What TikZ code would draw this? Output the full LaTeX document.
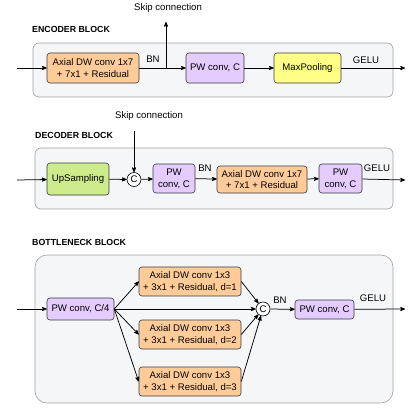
\documentclass[tikz,border=0pt]{standalone}
\usepackage{fontspec}
\setmainfont{Liberation Sans}
\usepackage{tikz}
\usetikzlibrary{arrows,shapes,positioning,calc,backgrounds}
\definecolor{orangeblk}{RGB}{255,204,153}
\definecolor{purpleblk}{RGB}{229,204,255}
\definecolor{yellowblk}{RGB}{255,255,136}
\definecolor{greenblk}{RGB}{205,235,139}
\definecolor{groupbg}{RGB}{245,246,248}
\definecolor{groupline}{RGB}{160,160,160}
\definecolor{boxline}{RGB}{54,57,61}

\begin{document}
\begin{tikzpicture}[x=1pt,y=-1pt]

           \tikzstyle{every node}=[font=\fontsize{9.6}{11.8}\selectfont]
           \tikzstyle{blk}=[draw=boxline,rounded corners=3pt,align=center,inner sep=1pt,line width=0.6pt]
           \tikzstyle{lbl}=[inner sep=0pt]
           \tikzstyle{ttl}=[inner sep=0pt,anchor=west,font=\fontsize{8.8}{10}\selectfont\bfseries]
           \tikzstyle{cat}=[draw=black,circle,fill=white,minimum size=14pt,inner sep=0pt,line width=0.6pt]
           \tikzstyle{group}=[draw=groupline,fill=groupbg,line width=0.6pt]
           \tikzstyle{link}=[->,>=stealth',line width=0.75pt]

    \useasboundingbox (0,0) rectangle (420,412);

    % containers
    \draw[group,rounded corners=6pt] (33,43) rectangle (393,97);
    \draw[group,rounded corners=6pt] (35,148) rectangle (393,209);
    \draw[group,rounded corners=12pt] (35,255) rectangle (393,403);

    % encoder block
    \node[ttl] (etitle) at (32,29) {ENCODER BLOCK};
    \node[blk,fill=orangeblk,minimum width=92pt,minimum height=30pt] (eax) at (93,68) {Axial DW conv 1x7\\+ 7x1 + Residual};
    \node[blk,fill=purpleblk,minimum width=58pt,minimum height=30pt] (epw) at (215,68) {PW conv, C};
    \node[blk,fill=yellowblk,minimum width=67pt,minimum height=30pt] (emp) at (307.5,68) {MaxPooling};
    \node[lbl] (ebn) at (153,59) {BN};
    \node[lbl] (egelu) at (366,60) {GELU};
    \node[lbl] (esktxt) at (168,8) {Skip connection};
    \coordinate (ein) at (17,68);
    \coordinate (eout) at (405,68);
    \coordinate (esk) at (166,68);
    \coordinate (eskt) at (166,22);

    \draw[link] (ein) -- (eax);
    \draw[link] (eax) -- (epw);
    \draw[link] (esk) -- (eskt);
    \draw[link] (epw) -- (emp);
    \draw[link] (emp) -- (eout);

    % decoder block
    \node[ttl] (dtitle) at (35,135) {DECODER BLOCK};
    \node[blk,fill=greenblk,minimum width=62pt,minimum height=32pt] (dup) at (78,179) {UpSampling};
    \node[cat] (dc) at (134,179.5) {C};
    \node[blk,fill=purpleblk,minimum width=42pt,minimum height=29pt] (dpw1) at (174,178.5) {PW\\conv, C};
    \node[blk,fill=orangeblk,minimum width=90pt,minimum height=27pt] (dax) at (262,179.5) {Axial DW conv 1x7\\+ 7x1 + Residual};
    \node[blk,fill=purpleblk,minimum width=43pt,minimum height=29pt] (dpw2) at (340.5,178.5) {PW\\conv, C};
    \node[lbl] (dbn) at (205,168) {BN};
    \node[lbl] (dgelu) at (377,168) {GELU};
    \node[lbl] (dsktxt) at (149,116) {Skip connection};
    \coordinate (din) at (17,180);
    \coordinate (dout) at (405,180);
    \coordinate (dskt) at (134,131);

    \draw[link] (din) -- (dup);
    \draw[link] (dup) -- (dc);
    \draw[link] (dskt) -- (dc);
    \draw[link] (dc) -- (dpw1);
    \draw[link] (dpw1) -- (dax);
    \draw[link] (dax) -- (dpw2);
    \draw[link] (dpw2) -- (dout);

    % bottleneck block
    \node[ttl] (btitle) at (32,242) {BOTTLENECK BLOCK};
    \node[blk,fill=purpleblk,minimum width=67pt,minimum height=22pt] (bpw1) at (80.5,309) {PW conv, C/4};
    \node[blk,fill=orangeblk,minimum width=102pt,minimum height=29pt] (bax1) at (190,281.5) {Axial DW conv 1x3\\+ 3x1 + Residual, d=1};
    \node[blk,fill=orangeblk,minimum width=102pt,minimum height=29pt] (bax2) at (190,334.5) {Axial DW conv 1x3\\+ 3x1 + Residual, d=2};
    \node[blk,fill=orangeblk,minimum width=102pt,minimum height=29pt] (bax3) at (190,381.5) {Axial DW conv 1x3\\+ 3x1 + Residual, d=3};
    \node[cat] (bc) at (263,309) {C};
    \node[blk,fill=purpleblk,minimum width=59pt,minimum height=19pt] (bpw2) at (324.5,309.5) {PW conv, C};
    \node[lbl] (bbn) at (280,300) {BN};
    \node[lbl] (bgelu) at (373,298) {GELU};
    \coordinate (bin) at (17,309);
    \coordinate (bout) at (405,309);

    \draw[link] (bin) -- (bpw1);
    \draw[link] (bpw1.east) -- (bax1.west);
    \draw[link] (bpw1.east) -- (bax2.west);
    \draw[link] (bpw1.east) -- (bax3.west);
    \draw[link] (bpw1.east) -- (bc);
    \draw[link] (bax1.east) -- (bc);
    \draw[link] (bax2.east) -- (bc);
    \draw[link] (bax3.east) -- (bc);
    \draw[link] (bc) -- (bpw2);
    \draw[link] (bpw2) -- (bout);

\end{tikzpicture}
\end{document}
